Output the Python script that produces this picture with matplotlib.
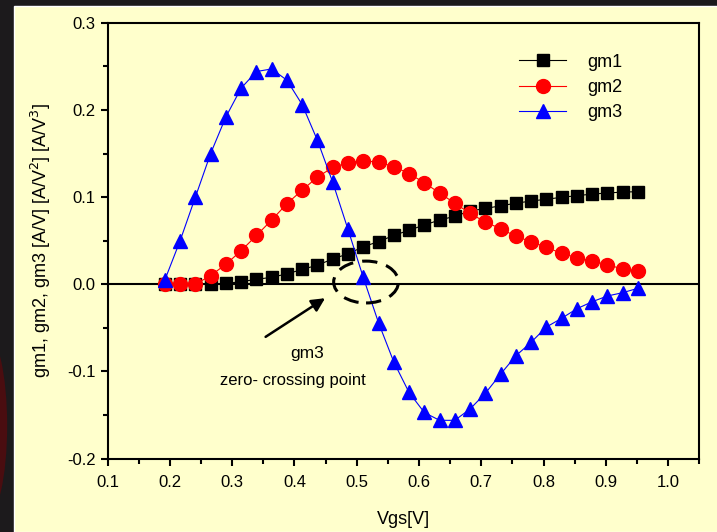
import matplotlib.pyplot as plt
import matplotlib.patches as mpatches
from matplotlib.ticker import MultipleLocator

plt.rcParams['font.family'] = ['Liberation Sans', 'DejaVu Sans']

# gate voltage sweep (V)
vgs = [0.192, 0.2165, 0.241, 0.2655, 0.290, 0.3145, 0.339, 0.3635,
       0.388, 0.4125, 0.437, 0.4615, 0.486, 0.5105, 0.535, 0.5595,
       0.584, 0.6085, 0.633, 0.6575, 0.682, 0.7065, 0.731, 0.7555,
       0.780, 0.8045, 0.829, 0.8535, 0.878, 0.9025, 0.927, 0.9515]

gm1 = [0.000, 0.000, 0.000, 0.000, 0.001, 0.003, 0.0057, 0.008,
       0.012, 0.017, 0.022, 0.029, 0.035, 0.043, 0.049, 0.056,
       0.062, 0.068, 0.0737, 0.078, 0.084, 0.087, 0.090, 0.093,
       0.0955, 0.0975, 0.0998, 0.1016, 0.1035, 0.1047, 0.1058, 0.1062]

gm2 = [0.000, 0.000, 0.000, 0.010, 0.023, 0.0385, 0.056, 0.0737,
       0.0925, 0.108, 0.123, 0.134, 0.1395, 0.1418, 0.140, 0.135,
       0.127, 0.1165, 0.1047, 0.093, 0.0814, 0.0714, 0.0638, 0.055,
       0.0489, 0.0424, 0.0355, 0.0305, 0.0267, 0.0225, 0.0175, 0.0153]

gm3 = [0.005, 0.050, 0.100, 0.150, 0.192, 0.225, 0.244, 0.247,
       0.234, 0.206, 0.165, 0.117, 0.063, 0.008, -0.044, -0.089,
       -0.124, -0.147, -0.156, -0.156, -0.143, -0.125, -0.103, -0.082,
       -0.0665, -0.049, -0.039, -0.028, -0.020, -0.0134, -0.0096, -0.0046]

YELLOW = '#ffffcc'

fig = plt.figure(figsize=(7.17, 5.32), dpi=100, facecolor='#1c1a1c')
# slide panel behind the chart
fig.patches.append(mpatches.Rectangle((14 / 717, 0), 1, 1 - 6 / 532,
                                      transform=fig.transFigure,
                                      facecolor=YELLOW, edgecolor='white',
                                      linewidth=1, zorder=-10))
fig.patches.append(mpatches.Ellipse((-0.02, 0.2), 0.06, 0.35,
                                    transform=fig.transFigure,
                                    facecolor='#4a0d10', edgecolor='none',
                                    zorder=-10))

ax = fig.add_axes([0.150, 0.1378, 0.8253, 0.8195])
ax.set_facecolor(YELLOW)

ax.axhline(0, color='black', lw=1.5, zorder=1)

ax.plot(vgs, gm1, color='black', lw=0.8, marker='s', ms=8.5,
        label='gm1', zorder=3)
ax.plot(vgs, gm2, color='red', lw=0.8, marker='o', ms=10,
        label='gm2', zorder=4)
ax.plot(vgs, gm3, color='blue', lw=0.8, marker='^', ms=10,
        label='gm3', zorder=5)

ax.add_patch(mpatches.Ellipse((0.515, 0.0026), 0.104, 0.048,
                              fill=False, edgecolor='black', lw=2.2,
                              linestyle=(0, (5, 3)), zorder=6))
ax.annotate('', xy=(0.453, -0.0142), xytext=(0.350, -0.062),
            arrowprops=dict(arrowstyle='-|>', color='black', lw=1.8,
                            mutation_scale=20))
ax.text(0.421, -0.0795, 'gm3', ha='center', va='center', fontsize=12.5)
ax.text(0.398, -0.110, 'zero- crossing point', ha='center', va='center',
        fontsize=12)

ax.set_xlim(0.1, 1.05)
ax.set_ylim(-0.2, 0.3)
ax.xaxis.set_major_locator(MultipleLocator(0.1))
ax.xaxis.set_minor_locator(MultipleLocator(0.05))
ax.yaxis.set_major_locator(MultipleLocator(0.1))
ax.yaxis.set_minor_locator(MultipleLocator(0.05))
ax.tick_params(which='both', direction='out', width=1.5, labelsize=12,
               top=False, right=False)
ax.tick_params(which='major', length=5)
ax.tick_params(which='minor', length=3.5)
ax.tick_params(axis='x', pad=7)
ax.xaxis.set_major_formatter(plt.FormatStrFormatter('%.1f'))
ax.yaxis.set_major_formatter(plt.FormatStrFormatter('%.1f'))
for s in ax.spines.values():
    s.set_linewidth(1.5)

ax.set_xlabel('Vgs[V]', fontsize=13, labelpad=15)
ax.set_ylabel('gm1, gm2, gm3 [A/V] [A/V$^2$] [A/V$^3$]', fontsize=13,
              labelpad=10)

leg = ax.legend(loc='upper right', bbox_to_anchor=(0.897, 0.966),
                frameon=False, fontsize=13, handlelength=2.6,
                handletextpad=1.15, labelspacing=0.45)

fig.savefig('out.png', dpi=100, facecolor=fig.get_facecolor())
